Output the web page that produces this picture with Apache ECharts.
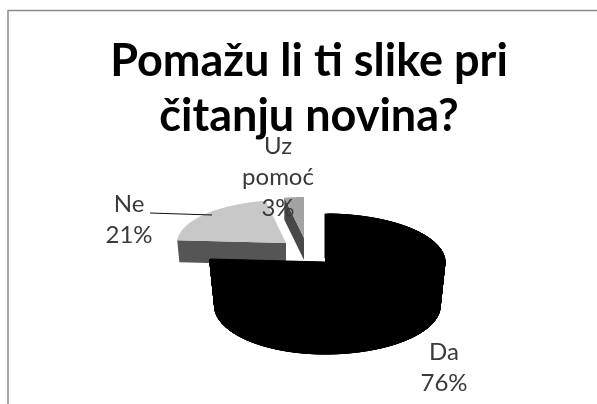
<!DOCTYPE html>
<html><head><meta charset="utf-8">
<style>html,body{margin:0;padding:0;background:#fff}#c{width:597px;height:404px}</style>
<script src="https://cdn.jsdelivr.net/npm/echarts@6/dist/echarts.min.js"></script>
</head><body><div id="c"></div>
<script>
const categories = ['Da', 'Ne', 'Uz\npomoć'];
const percents = [76, 21, 3];
const chartTitle = 'Pomažu li ti slike pri\nčitanju novina?';

const geom = [
  {cx:325, cy:262, rx:120, rxL:115, ry:48, depth:44, shrink:0.96, top:'#000000', wall:'#000000', face:'#000000', outer:true,  lx:444, ly:368, z:10},
  {cx:286, cy:243, rx:109, rxL:109, ry:43, depth:22, shrink:0.98, top:'#c8c8c8', wall:'#555555', face:'#555555', outer:false, lx:129, ly:220, z:2},
  {cx:304, cy:238, rx:105, rxL:105, ry:41, depth:22, shrink:1,    top:'#a3a3a3', wall:'#404040', face:'#484848', outer:false, lx:278, ly:177, z:3}
];
const total = percents.reduce((a, b) => a + b, 0);
const starts = percents.map((_, i) => percents.slice(0, i).reduce((a, b) => a + b, 0) / total * 360);

function pt(g, deg) {
  const r = deg * Math.PI / 180, s = Math.sin(r);
  return [g.cx + (s < 0 ? g.rxL : g.rx) * s, g.cy - g.ry * Math.cos(r)];
}
function low(g, p) {
  return [g.cx + (p[0] - g.cx) * g.shrink, p[1] + g.depth];
}
function poly(points, fill, z2, stroke) {
  return {type:'polygon', shape:{points}, style:{fill, stroke: stroke || null, lineWidth: stroke ? 1 : 0}, z2};
}
function renderItem(params, api) {
  const i = params.dataIndex;
  const g = geom[i];
  const a0 = starts[i];
  const a1 = a0 + api.value(1) / total * 360;
  const c = [g.cx, g.cy];
  const children = [];
  const n = Math.max(2, Math.ceil(a1 - a0));
  const top = [];
  for (let k = 0; k <= n; k++) top.push(pt(g, a0 + (a1 - a0) * k / n));
  if (g.outer) {
    for (let k = 0; k < n; k++) {
      const b = top[Math.min(n, k + 3)];
      children.push(poly([top[k], b, low(g, b), low(g, top[k])], g.wall, g.z, g.wall));
    }
    children.push(poly([low(g, c)].concat(top.map(p => low(g, p))), g.wall, g.z));
    const e = top[n];
    children.push(poly([c, e, low(g, e), low(g, c)], g.face, g.z, g.face));
  }
  const s = top[0];
  children.push(poly([c, s, low(g, s), low(g, c)], g.face, g.z));
  children.push(poly([c].concat(top), g.top, g.z + 1));
  children.push({
    type:'text', z2:50,
    style:{
      x:g.lx, y:g.ly, text:categories[i] + '\n' + api.value(1) + '%',
      fill:'#3a3a3a', font:'24px Lato', lineHeight:31, align:'center', verticalAlign:'middle'
    }
  });
  return {type:'group', children};
}

const chart = echarts.init(document.getElementById('c'), null, {renderer:'canvas'});
chart.setOption({
  animation:false,
  backgroundColor:'#ffffff',
  title:{
    text:chartTitle, left:304, top:29, textAlign:'center',
    textStyle:{fontFamily:'Lato', fontWeight:'bold', fontSize:45, lineHeight:55, color:'#000000'}
  },
  series:[{
    type:'custom', coordinateSystem:'none', renderItem,
    data:percents.map((v, i) => [i, v]), silent:true
  }],
  graphic:[
    {type:'polyline', z:100, shape:{points:[[8,404],[8,10.5],[597,10.5]]}, style:{stroke:'#8c8c8c', fill:null, lineWidth:1.5}},
    {type:'line', z:100, shape:{x1:150, y1:213, x2:212, y2:215}, style:{stroke:'#111111', lineWidth:1}}
  ]
});
</script></body></html>
